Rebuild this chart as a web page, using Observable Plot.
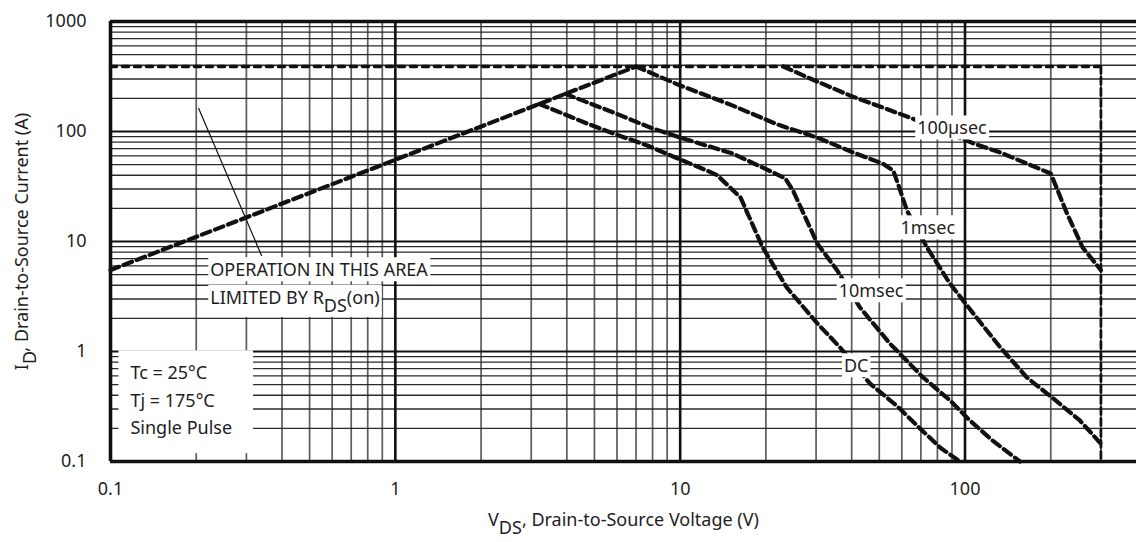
<!DOCTYPE html>
<html>
<head>
<meta charset="utf-8">
<script src="https://cdn.jsdelivr.net/npm/d3@7"></script>
<script src="https://cdn.jsdelivr.net/npm/@observablehq/plot@0.6"></script>
<style>
  html, body { margin: 0; padding: 0; background: #fff; }
  #chart svg { display: block; }
</style>
</head>
<body>
<div id="chart"></div>
<script>
// Safe operating area: drain current vs drain-source voltage (log-log)

// Axis ticks
const xTickValues = [0.1, 1, 10, 100];
const yTickValues = [0.1, 1, 10, 100, 1000];

// Device limits
const idMax = 390;     // A, package current limit
const vdss = 300;      // V, breakdown voltage limit

// R_DS(on) limited region
const rdsV = [0.1, 7.0];
const rdsI = [5.5, 390];

// 100 µs pulse
const us100V = [23, 28.6, 39.5, 64, 107, 133, 200, 228, 259, 300];
const us100I = [390, 303, 212, 134, 78, 64.4, 41.5, 18, 8.8, 5.5];

// 1 ms pulse
const ms1V = [7.0, 10, 15.3, 21.9, 30.3, 40.5, 51.5, 56, 58.5, 62.6, 73.6, 88.5, 107, 133, 165, 204, 253, 300];
const ms1I = [390, 262, 172, 116, 88, 64.4, 51, 44, 32, 19, 8.8, 4.15, 2.21, 1.09, 0.58, 0.374, 0.236, 0.145];

// 10 ms pulse
const ms10V = [3.95, 5.82, 7.85, 10, 15.3, 21.2, 23.4, 24.9, 30.3, 35.6, 42.8, 54.5, 71.3, 88.5, 104, 125, 156];
const ms10I = [220, 149, 108.7, 88, 63, 42.4, 37.4, 29, 9.6, 5.45, 2.51, 1.18, 0.58, 0.36, 0.236, 0.155, 0.1];

// DC
const dcV = [3.2, 4.72, 5.82, 7.66, 10.2, 12.4, 13.5, 16.3, 19.5, 23.7, 30.3, 36.4, 46.4, 57.7, 69.5, 81.7, 96];
const dcI = [178, 118, 96, 74.6, 54.5, 44.2, 40, 25, 8.8, 3.8, 1.8, 1.09, 0.51, 0.32, 0.2, 0.134, 0.1];

// Curve labels
const curveLabelText = ["100\u00b5sec", "1msec", "10msec", "DC"];
const curveLabelV = [90, 74, 46.8, 41.5];
const curveLabelI = [106, 13.1, 3.51, 0.73];

// R_DS(on) note and its leader line
const noteText = ["OPERATION IN THIS AREA", "LIMITED BY R_{DS}(on)"];
const noteV = [0.224, 0.224];
const noteI = [5.45, 3.06];
const leaderV = [0.204, 0.339];
const leaderI = [162, 7.46];

// Test conditions
const condText = ["Tc = 25\u00b0C", "Tj = 175\u00b0C", "Single Pulse"];
const condV = [0.1175, 0.1175, 0.1175];
const condI = [0.631, 0.351, 0.2];

// ---- tables built from the arrays above ----
const zip = (name, vs, is) => vs.map((v, k) => ({series: name, v, i: is[k]}));
const curves = [
  ...zip("RDS(on)", rdsV, rdsI),
  ...zip("100us", us100V, us100I),
  ...zip("1ms", ms1V, ms1I),
  ...zip("10ms", ms10V, ms10I),
  ...zip("DC", dcV, dcI)
];
const currentLimit = [{v: xTickValues[0], i: idMax}, {v: vdss, i: idMax}];
const voltageLimit = [{v: vdss, i: idMax}, {v: vdss, i: yTickValues[0]}];
const leader = zip("leader", leaderV, leaderI);
const curveLabels = curveLabelText.map((t, k) => ({t, v: curveLabelV[k], i: curveLabelI[k]}));
const notes = noteText.map((t, k) => ({t, v: noteV[k], i: noteI[k]}));
const conds = condText.map((t, k) => ({t, v: condV[k], i: condI[k]}));

// log grid lines: 2..9 within each decade
const decadeGrid = (lo, hi) => {
  const out = [];
  for (let d = lo; d < hi; d *= 10) for (let m = 2; m <= 9; m++) out.push(+(d * m).toPrecision(3));
  return out;
};
const xMinor = decadeGrid(0.1, 1000).filter(v => v <= 300);
const yMinor = decadeGrid(0.1, 1000);
const xMajor = [1, 10, 100];
const yMajor = [1, 10, 100];

const ink = "#111";
const textInk = "#1e1e1e";

const chart = Plot.plot({
  width: 1136,
  height: 542,
  marginLeft: 110,
  marginRight: 0,
  marginTop: 21,
  marginBottom: 81,
  style: {fontFamily: "'Noto Sans', sans-serif", fontSize: "18px", color: textInk, background: "#fff", overflow: "visible"},
  x: {type: "log", domain: [0.1, 400], ticks: xTickValues, tickFormat: d => String(d), tickSize: 0, tickPadding: 21, label: null},
  y: {type: "log", domain: [0.1, 1000], ticks: yTickValues, tickFormat: d => String(d), tickSize: 0, tickPadding: 24, label: null},
  marks: [
    // grid
    Plot.ruleX(xMinor, {stroke: "#5c5c5c", strokeWidth: 1.7}),
    Plot.ruleY(yMinor, {stroke: "#2a2a2a", strokeWidth: 1.3}),
    Plot.ruleX(xMajor, {stroke: ink, strokeWidth: 2.6}),
    Plot.ruleY(yMajor, {stroke: ink, strokeWidth: 2}),
    // frame (left, top, bottom)
    Plot.ruleX([0.1], {stroke: ink, strokeWidth: 3.6}),
    Plot.ruleY([0.1, 1000], {stroke: ink, strokeWidth: 3.4}),
    // current and voltage limits
    Plot.line(currentLimit, {x: "v", y: "i", stroke: ink, strokeWidth: 3.6, strokeDasharray: "6,6"}),
    Plot.line(voltageLimit, {x: "v", y: "i", stroke: ink, strokeWidth: 2.8, strokeDasharray: "7,4"}),
    // SOA boundaries
    Plot.line(curves, {x: "v", y: "i", z: "series", stroke: ink, strokeWidth: 4.2, strokeDasharray: "9,5"}),
    // leader line for the note
    Plot.line(leader, {x: "v", y: "i", stroke: ink, strokeWidth: 1.2}),
    // labels (white boxes are added behind them after rendering)
    Plot.text(curveLabels, {x: "v", y: "i", text: "t", fontSize: 18, fill: textInk, textAnchor: "middle"}),
    Plot.text(notes, {x: "v", y: "i", text: "t", fontSize: 18, fill: textInk, textAnchor: "start"}),
    Plot.text(conds, {x: "v", y: "i", text: "t", fontSize: 18, fill: textInk, textAnchor: "start"}),
    // axis titles
    Plot.text(["V_{DS}, Drain-to-Source Voltage (V)"], {frameAnchor: "bottom", textAnchor: "middle", dy: 64, fontSize: 18, fill: textInk}),
    Plot.text(["I_{D}, Drain-to-Source Current (A)"], {frameAnchor: "left", textAnchor: "middle", dx: -88.5, rotate: -90, fontSize: 18, fill: textInk})
  ]
});

document.getElementById("chart").appendChild(chart);

const SVGNS = "http://www.w3.org/2000/svg";

// Turn "_{...}" markup into lowered tspans
function applySubscripts(root) {
  for (const t of root.querySelectorAll("text")) {
    const s = t.textContent;
    if (!s.includes("_{")) continue;
    const parts = s.split(/(_\{[^}]*\})/).filter(p => p.length);
    while (t.firstChild) t.removeChild(t.firstChild);
    let lowered = false;
    for (const p of parts) {
      const span = document.createElementNS(SVGNS, "tspan");
      const sub = p.startsWith("_{");
      span.textContent = sub ? p.slice(2, -1) : p;
      if (sub && !lowered) { span.setAttribute("dy", "0.45em"); lowered = true; }
      else if (!sub && lowered) { span.setAttribute("dy", "-0.45em"); lowered = false; }
      t.appendChild(span);
    }
  }
}
applySubscripts(chart);

// White background boxes behind label texts
function boxEach(g, pad) {
  for (const t of g.querySelectorAll("text")) {
    const b = t.getBBox();
    const r = document.createElementNS(SVGNS, "rect");
    r.setAttribute("x", b.x - pad);
    r.setAttribute("y", b.y);
    r.setAttribute("width", b.width + 2 * pad);
    r.setAttribute("height", b.height);
    r.setAttribute("fill", "#fff");
    if (t.getAttribute("transform")) r.setAttribute("transform", t.getAttribute("transform"));
    t.parentNode.insertBefore(r, t);
  }
}
function boxAll(g, padL, padR, padT, padB) {
  let x0 = Infinity, y0 = Infinity, x1 = -Infinity, y1 = -Infinity;
  for (const t of g.querySelectorAll("text")) {
    const b = t.getBBox();
    const tr = t.getAttribute("transform");
    let ox = 0, oy = 0;
    if (tr) { const m = /translate\(([-\d.e]+)[ ,]+([-\d.e]+)\)/.exec(tr); if (m) { ox = +m[1]; oy = +m[2]; } }
    x0 = Math.min(x0, b.x + ox); y0 = Math.min(y0, b.y + oy);
    x1 = Math.max(x1, b.x + ox + b.width); y1 = Math.max(y1, b.y + oy + b.height);
  }
  const r = document.createElementNS(SVGNS, "rect");
  r.setAttribute("x", x0 - padL);
  r.setAttribute("y", y0 - padT);
  r.setAttribute("width", x1 - x0 + padL + padR);
  r.setAttribute("height", y1 - y0 + padT + padB);
  r.setAttribute("fill", "#fff");
  g.insertBefore(r, g.firstChild);
}
const textGroups = chart.querySelectorAll('g[aria-label="text"]');
boxEach(textGroups[0], 2);
boxEach(textGroups[1], 2);
boxAll(textGroups[2], 12, 21, 10, 14);
</script>
</body>
</html>
